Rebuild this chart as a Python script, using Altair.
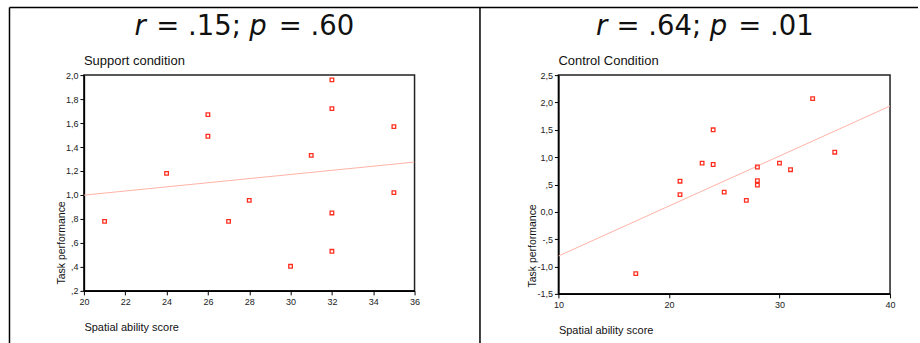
import altair as alt
import pandas as pd

# ---- data ----
sup_x = [21, 24, 26, 26, 27, 28, 30, 31, 32, 32, 32, 32, 35, 35]
sup_y = [0.78, 1.18, 1.67, 1.49, 0.78, 0.955, 0.405, 1.33, 1.96, 1.72, 0.85, 0.53, 1.57, 1.02]

con_x = [17, 21, 21, 23, 24, 24, 25, 27, 28, 28, 28, 30, 31, 33, 35]
con_y = [-1.13, 0.56, 0.315, 0.89, 1.50, 0.865, 0.36, 0.21, 0.82, 0.57, 0.49, 0.89, 0.77, 2.07, 1.09]

sup_xticks = [20, 22, 24, 26, 28, 30, 32, 34, 36]
sup_yticks = [0.2, 0.4, 0.6, 0.8, 1.0, 1.2, 1.4, 1.6, 1.8, 2.0]
con_xticks = [10, 20, 30, 40]
con_yticks = [-1.5, -1.0, -0.5, 0.0, 0.5, 1.0, 1.5, 2.0, 2.5]

sup_title = ["r", "= .15;", "p", "= .60"]
con_title = ["r", "= .64;", "p", "= .01"]
sup_sub = "Support condition"
con_sub = "Control Condition"
x_title = "Spatial ability score"
y_title = "Task performance"

FONT = "Liberation Sans"
BIG = "DejaVu Sans"
PT_COLOR = "#ff2f1f"
LINE_COLOR = "#ffb3a6"

LABEL_EXPR = ("datum.value == 0 ? '0,0' : replace(replace(replace(format(datum.value, '.1f'), "
              "'\u2212', '-'), '0.', '.'), '.', ',')")

one = pd.DataFrame({"k": [0]})


def panel(xs, ys, xdom, ydom, xticks, yticks, w, h, sub, tparts, txs, ytx, yty, frame):
    df = pd.DataFrame({"x": xs, "y": ys})
    xenc = alt.X("x:Q", title=x_title,
                 scale=alt.Scale(domain=xdom, nice=False, zero=False),
                 axis=alt.Axis(values=xticks, grid=False, tickSize=4, labelPadding=3,
                               labelFlush=False, labelOverlap=False, labelBound=False,
                               titleX=0, titleY=37, titleAlign="left",
                               titleBaseline="middle"))
    yenc = alt.Y("y:Q", title=y_title,
                 scale=alt.Scale(domain=ydom, nice=False, zero=False),
                 axis=alt.Axis(values=yticks, grid=False, tickSize=4, labelPadding=2,
                               labelFlush=False, labelOverlap=False, labelBound=False,
                               labelExpr=LABEL_EXPR,
                               titleX=ytx, titleY=yty, titleAngle=270,
                               titleAlign="center", titleBaseline="middle"))
    base = alt.Chart(df)
    reg = base.transform_regression("x", "y", extent=xdom).mark_line(
        color=LINE_COLOR, strokeWidth=1, clip=True).encode(x=xenc, y=yenc)
    pts = base.mark_point(shape="square", filled=False, size=13, strokeWidth=1.3,
                          color=PT_COLOR, opacity=1).encode(x=xenc, y=yenc)
    layers = [reg, pts]
    subt = alt.Chart(one).mark_text(font=FONT, fontSize=13, align="left",
                                    baseline="alphabetic", color="#111").encode(
        x=alt.value(0), y=alt.value(-10.5), text=alt.value(sub))
    layers.append(subt)
    for part, tx, it in zip(tparts, txs, [True, False, True, False]):
        kw = dict(font=BIG, fontSize=27.5, align="left", baseline="alphabetic",
                  color="#111")
        if it:
            kw["fontStyle"] = "italic"
        layers.append(alt.Chart(one).mark_text(**kw).encode(
            x=alt.value(tx), y=alt.value(-40.5), text=alt.value(part)))
    if frame:
        fr = dict(color="black", strokeWidth=1.5)
        layers.append(alt.Chart(one).mark_rule(**fr).encode(
            x=alt.value(-74.5), y=alt.value(-67.8), y2=alt.value(269)))
        layers.append(alt.Chart(one).mark_rule(**fr).encode(
            x=alt.value(-74.5), x2=alt.value(835), y=alt.value(-67.8)))
        layers.append(alt.Chart(one).mark_rule(**fr).encode(
            x=alt.value(396.5), y=alt.value(-67.8), y2=alt.value(269)))
    return alt.layer(*layers).properties(width=w, height=h)


left = panel(sup_x, sup_y, [20, 36], [0.2, 2.0], sup_xticks, sup_yticks, 331, 216,
             sup_sub, sup_title, [50.7, 72.5, 165.5, 195.0], -22.3, 167.5, True)
right = panel(con_x, con_y, [10, 40], [-1.5, 2.5], con_xticks, con_yticks, 332, 219,
              con_sub, con_title, [37.7, 58.2, 151.5, 180.0], -26.3, 170.5, False)

chart = alt.hconcat(left, right, spacing=144, bounds="flush").properties(
    padding={"left": 8, "top": 5, "right": 0, "bottom": 0},
    background="white",
).configure_view(stroke="#222", strokeWidth=1.5).configure_axis(
    domainColor="black", domainWidth=1.5, tickColor="black", tickWidth=1,
    labelFont=FONT, labelFontSize=9, labelColor="#222",
    titleFont=FONT, titleFontSize=10.5, titleFontWeight="normal", titleColor="#111",
).configure_axisX(titleFontSize=11)

chart.save("out.html", embed_options={"renderer": "svg", "actions": False})
